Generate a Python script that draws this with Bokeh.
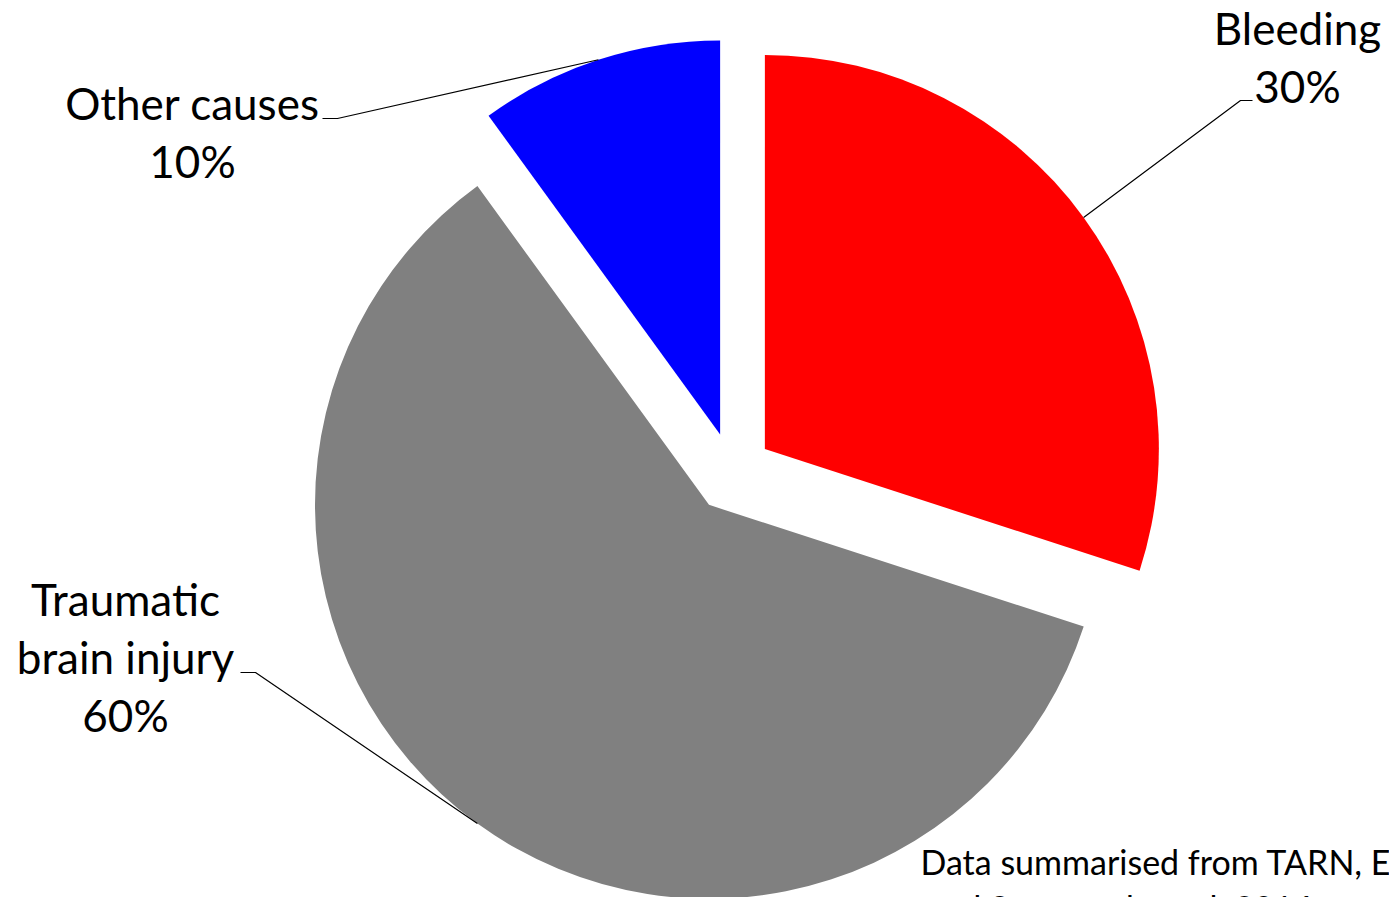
import numpy as np
from bokeh.plotting import figure
from bokeh.models import Range1d, ColumnDataSource
from bokeh.core.properties import value
from bokeh.embed import file_html
from bokeh.resources import INLINE

# Causes of death after major trauma (share of deaths, %)
categories = ["Bleeding", "Traumatic brain injury", "Other causes"]
shares = [30, 60, 10]
pct_labels = ["30%", "60%", "10%"]
colors = ["#FF0000", "#808080", "#0000FF"]

footnote_lines = ["Data summarised from TARN, Eastridge et al. 2012",
                  "and Stanworth et al. 2016"]

W, H = 1389, 897
FONT = "Lato"

# pie geometry (canvas units, y measured upward)
cx, cy = 732, H - 472
R = 394
EXPLODE = 40

# label blocks: text lines, centre x, baselines (from top), leader elbow
label_layout = {
    "Bleeding": dict(lines=["Bleeding", "30%"], x=1297, base=[27, 85],
                     elbow=[(1252, 100), (1240, 100)]),
    "Traumatic brain injury": dict(lines=["Traumatic", "brain injury", "60%"], x=125,
                                   base=[598, 656, 714],
                                   elbow=[(240, 672), (255, 672)]),
    "Other causes": dict(lines=["Other causes", "10%"], x=192, base=[102, 160],
                         elbow=[(322, 118), (337, 118)]),
}

frac = np.array(shares, dtype=float) / sum(shares)
# slices run clockwise from twelve o'clock
end_ang = np.pi / 2 - 2 * np.pi * np.cumsum(frac)
start_ang = end_ang + 2 * np.pi * frac
mid_ang = (start_ang + end_ang) / 2
wx = cx + EXPLODE * np.cos(mid_ang)
wy = cy + EXPLODE * np.sin(mid_ang)

p = figure(width=W, height=H, x_range=Range1d(0, W), y_range=Range1d(0, H),
           x_axis_type=None, y_axis_type=None, toolbar_location=None,
           output_backend="svg", min_border=0, background_fill_color="white",
           border_fill_color="white")
p.grid.visible = False
p.outline_line_color = None

src = ColumnDataSource(dict(x=wx, y=wy, start=end_ang, end=start_ang,
                            color=colors, cat=categories))
p.wedge(x="x", y="y", radius=R, start_angle="start", end_angle="end",
        fill_color="color", line_color=None, source=src)

# leader lines from the middle of each arc to its label
lx, ly = [], []
for i, cat in enumerate(categories):
    ax = wx[i] + R * np.cos(mid_ang[i])
    ay = wy[i] + R * np.sin(mid_ang[i])
    elbow = label_layout[cat]["elbow"]
    lx.append([elbow[0][0], elbow[1][0], ax])
    ly.append([H - elbow[0][1], H - elbow[1][1], ay])
p.multi_line(xs=lx, ys=ly, line_color="black", line_width=1.2)

tx, ty, tt = [], [], []
for cat in categories:
    lay = label_layout[cat]
    for line, b in zip(lay["lines"], lay["base"]):
        tx.append(lay["x"])
        ty.append(H - b)
        tt.append(line)
p.text(x=tx, y=ty, text=tt, text_align="center", text_baseline="alphabetic",
       text_font=value(FONT), text_font_size="44px", text_color="black")

p.text(x=[920, 926], y=[H - 861, H - 907], text=footnote_lines,
       text_align="left", text_baseline="alphabetic",
       text_font=value(FONT), text_font_size="34px", text_color="black")

open("out.html", "w").write(file_html(p, INLINE))
